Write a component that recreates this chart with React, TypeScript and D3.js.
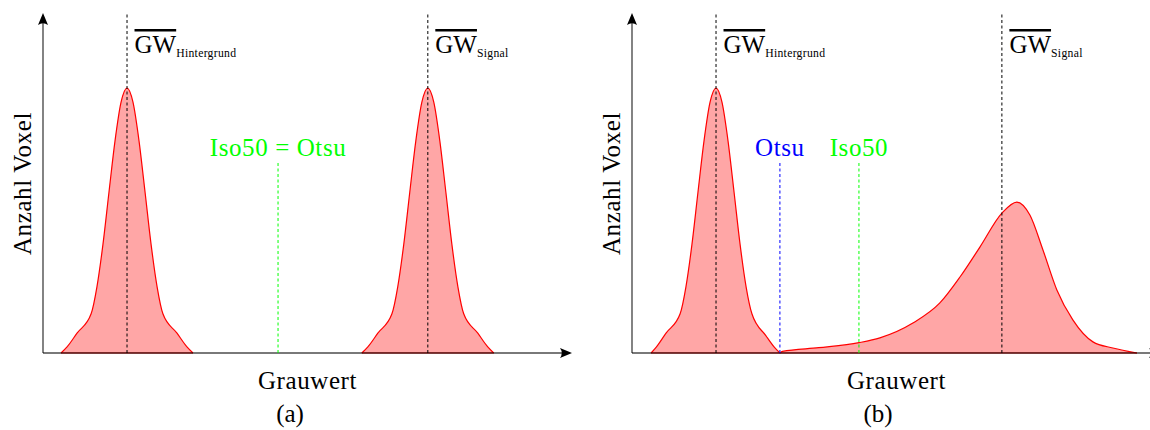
import React from "react";
import * as d3 from "d3";

// ---------- data (grey value 0..255, count normalised to background peak height) ----------
type Pt = [number, number];

const bgPeakA: Pt[] = [
  [8.7, 0], [11.6, 0.023], [16.4, 0.075], [23.2, 0.148], [26.0, 0.25], [28.9, 0.41],
  [31.8, 0.607], [34.7, 0.8], [37.6, 0.946], [40.5, 1], [43.4, 0.946], [46.3, 0.8],
  [49.2, 0.607], [52.1, 0.41], [55.0, 0.25], [57.8, 0.148], [64.6, 0.075], [69.4, 0.023], [72.3, 0],
];
const sigPeakA: Pt[] = [
  [153.7, 0], [156.6, 0.023], [161.4, 0.075], [168.2, 0.148], [171.0, 0.25], [173.9, 0.41],
  [176.8, 0.607], [179.7, 0.8], [182.6, 0.946], [185.5, 1], [188.4, 0.946], [191.3, 0.8],
  [194.2, 0.607], [197.1, 0.41], [200.0, 0.25], [202.8, 0.148], [209.6, 0.075], [214.4, 0.023], [217.3, 0],
];
const bgPeakB: Pt[] = [
  [9.2, 0], [11.8, 0.023], [16.4, 0.075], [23.2, 0.148], [26.0, 0.25], [28.9, 0.41],
  [31.8, 0.607], [34.7, 0.8], [37.6, 0.946], [40.5, 1], [43.4, 0.946], [46.3, 0.8],
  [49.2, 0.607], [52.1, 0.41], [55.0, 0.25], [57.8, 0.148], [64.6, 0.065], [68.8, 0.02], [71.3, 0],
];
const sigPeakB: Pt[] = [
  [71.3, 0], [72.5, 0.006], [90.0, 0.02], [109.4, 0.039], [119.5, 0.057], [135.4, 0.113],
  [148.4, 0.189], [158.1, 0.287], [167.7, 0.4], [178.3, 0.528], [185.5, 0.57], [191.8, 0.521],
  [198.1, 0.389], [204.8, 0.238], [212.5, 0.125], [222.2, 0.042], [231.8, 0.019], [243.4, 0],
];

const meanBgA = 40.5;
const meanSigA = 185.5;
const meanBgB = 40.5;
const meanSigB = 178.3;
const iso50A = 113.3;
const otsuB = 71.3;
const iso50B = 109.4;

const xDomain: [number, number] = [0, 255];
const yDomain: [number, number] = [0, 1.28];
const meanLineTop = 1.284;
const thresholdLineTop = 0.721;

const xLabel = "Grauwert";
const yLabel = "Anzahl Voxel";
const bgSub = "Hintergrund";
const sigSub = "Signal";

// ---------- layout ----------
const W = 1150;
const H = 430;
const plotW = 529;
const baseY = 353;
const topY = 14;
const FONT = "Liberation Serif, DejaVu Serif, serif";
const FS = 25;
const LS = 0.6;

type Thresh = { x: number; label: string; color: string };

function Arrow({ x, y, angle }: { x: number; y: number; angle: number }) {
  return (
    <path
      d="M0,0 L-12,-5 Q-8.5,0 -12,5 Z"
      transform={`translate(${x},${y}) rotate(${angle})`}
      fill="#000"
    />
  );
}

function MeanLabel({ x, sub }: { x: number; sub: string }) {
  return (
    <text x={x + 7.5} y={53} fontFamily={FONT} fontSize={FS} fill="#000">
      <tspan style={{ textDecoration: "overline" }}>GW</tspan>
      <tspan fontSize={11.7} dy={4} letterSpacing={0.3}>{sub}</tspan>
    </text>
  );
}

function Panel({
  x0,
  peaks,
  means,
  thresholds,
  combinedLabel,
  caption,
  captionX,
}: {
  x0: number;
  peaks: Pt[][];
  means: [number, string][];
  thresholds: Thresh[];
  combinedLabel?: { text: string; color: string; x: number };
  caption: string;
  captionX: number;
}) {
  const x = d3.scaleLinear().domain(xDomain).range([x0, x0 + plotW]);
  const y = d3.scaleLinear().domain(yDomain).range([baseY, topY]);
  const area = d3
    .area<Pt>()
    .x((d) => x(d[0]))
    .y0(y(0))
    .y1((d) => y(d[1]))
    .curve(d3.curveMonotoneX);
  const line = d3
    .line<Pt>()
    .x((d) => x(d[0]))
    .y((d) => y(d[1]))
    .curve(d3.curveMonotoneX);
  const xEnd = x(xDomain[1]);
  return (
    <g>
      {peaks.map((p, i) => (
        <g key={i}>
          <path d={area(p) || ""} fill="#ffa6a6" stroke="none" />
          <path d={line(p) || ""} fill="none" stroke="#ff0000" strokeWidth={1.2} />
          <line x1={x(p[0][0])} x2={x(p[p.length - 1][0])} y1={y(0)} y2={y(0)} stroke="#ff0000" strokeWidth={1.2} />
        </g>
      ))}
      {/* axes */}
      <line x1={x0} x2={x0} y1={baseY} y2={topY + 8} stroke="#000" strokeOpacity={0.75} strokeWidth={1.3} />
      <line x1={x0} x2={xEnd - 8} y1={baseY} y2={baseY} stroke="#000" strokeOpacity={0.7} strokeWidth={1.3} />
      <Arrow x={x0} y={topY - 1} angle={-90} />
      <Arrow x={xEnd} y={baseY} angle={0} />
      {/* means */}
      {means.map(([m, sub], i) => (
        <g key={i}>
          <line
            x1={x(m)}
            x2={x(m)}
            y1={y(0)}
            y2={y(meanLineTop)}
            stroke="#000"
            strokeWidth={1}
            strokeDasharray="3,2.5"
          />
          <MeanLabel x={x(m)} sub={sub} />
        </g>
      ))}
      {/* thresholds */}
      {thresholds.map((t, i) => (
        <g key={i}>
          <line
            x1={x(t.x)}
            x2={x(t.x)}
            y1={y(0)}
            y2={y(thresholdLineTop)}
            stroke={t.color}
            strokeWidth={1}
            strokeDasharray="3,2.5"
          />
          {t.label && (
            <text x={x(t.x)} y={156} textAnchor="middle" fontFamily={FONT} fontSize={FS} letterSpacing={LS} fill={t.color}>
              {t.label}
            </text>
          )}
        </g>
      ))}
      {combinedLabel && (
        <text x={x(combinedLabel.x)} y={156} textAnchor="middle" fontFamily={FONT} fontSize={FS} letterSpacing={LS} fill={combinedLabel.color}>
          {combinedLabel.text}
        </text>
      )}
      {/* axis labels */}
      <text x={(x0 + xEnd) / 2} y={389} textAnchor="middle" fontFamily={FONT} fontSize={FS} letterSpacing={LS} fill="#000">
        {xLabel}
      </text>
      <text
        transform={`translate(${x0 - 12},${(baseY + topY) / 2}) rotate(-90)`}
        textAnchor="middle"
        fontFamily={FONT}
        fontSize={FS}
        letterSpacing={LS}
        fill="#000"
      >
        {yLabel}
      </text>
      <text x={captionX} y={422} textAnchor="middle" fontFamily={FONT} fontSize={FS} fill="#000">
        {caption}
      </text>
    </g>
  );
}

export default function App() {
  return (
    <div style={{ position: "absolute", left: 0, top: 0, width: W, height: H, overflow: "hidden", background: "#fff" }}>
      <svg width={W} height={H} viewBox={`0 0 ${W} ${H}`} style={{ display: "block" }}>
        <rect width={W} height={H} fill="#fff" />
        <Panel
          x0={43}
          peaks={[bgPeakA, sigPeakA]}
          means={[
            [meanBgA, bgSub],
            [meanSigA, sigSub],
          ]}
          thresholds={[{ x: iso50A, label: "", color: "#00ff00" }]}
          combinedLabel={{ text: "Iso50 = Otsu", color: "#00ff00", x: iso50A }}
          caption="(a)"
          captionX={290}
        />
        <Panel
          x0={632}
          peaks={[bgPeakB, sigPeakB]}
          means={[
            [meanBgB, bgSub],
            [meanSigB, sigSub],
          ]}
          thresholds={[
            { x: otsuB, label: "Otsu", color: "#0000ff" },
            { x: iso50B, label: "Iso50", color: "#00ff00" },
          ]}
          caption="(b)"
          captionX={878}
        />
      </svg>
    </div>
  );
}
